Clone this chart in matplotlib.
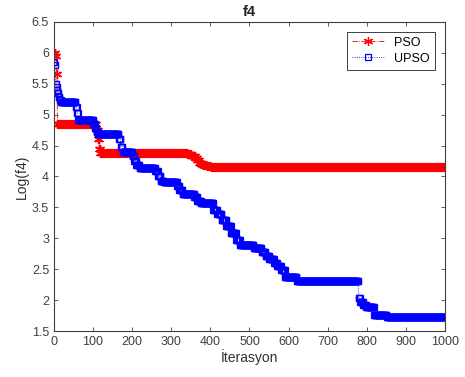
import numpy as np
import matplotlib
matplotlib.use("Agg")
import matplotlib.pyplot as plt

# step levels: iteration where each level ends, and its value
pso_ends = [3, 6, 8, 108, 112, 115, 118, 340, 350, 360, 365, 370, 375, 380, 390, 400, 1000]
pso_vals = [6.0, 5.95, 5.65, 4.85, 4.75, 4.6, 4.45, 4.38, 4.36, 4.33, 4.30, 4.26, 4.22, 4.20, 4.18, 4.17, 4.16]

upso_ends = [1, 3, 5, 7, 9, 11, 14, 17, 55, 58, 61, 100, 104, 108, 112, 165, 170, 175, 200,
             205, 210, 218, 258, 265, 272, 280, 314, 320, 328, 358, 366, 375, 407, 417, 428,
             440, 452, 465, 475, 510, 530, 540, 550, 562, 570, 580, 590, 620, 778, 782, 790,
             798, 818, 850, 1000]
upso_vals = [5.85, 5.8, 5.5, 5.45, 5.4, 5.35, 5.28, 5.23, 5.2, 5.12, 5.02, 4.91, 4.85, 4.78, 4.72,
             4.69, 4.6, 4.48, 4.39, 4.33, 4.25, 4.18, 4.13, 4.08, 4.0, 3.93, 3.91, 3.85, 3.78,
             3.72, 3.66, 3.6, 3.57, 3.45, 3.4, 3.3, 3.2, 3.08, 2.97, 2.89, 2.85, 2.78, 2.72,
             2.66, 2.6, 2.55, 2.48, 2.37, 2.31, 2.03, 1.97, 1.92, 1.89, 1.76, 1.73]

x_ticks = list(range(0, 1001, 100))
y_ticks = [1.5, 2, 2.5, 3, 3.5, 4, 4.5, 5, 5.5, 6, 6.5]


def expand(ends, vals):
    # turn (end iteration, level) pairs into one value per iteration
    lengths = np.diff([0] + ends)
    return np.repeat(vals, lengths)


pso = expand(pso_ends, pso_vals)
upso = expand(upso_ends, upso_vals)
it = np.arange(1, len(pso) + 1)

plt.rcParams['font.family'] = ['Liberation Sans', 'DejaVu Sans']
axcol = '#404040'

fig = plt.figure(figsize=(4.65, 3.77), dpi=100)
ax = fig.add_axes([0.116, 0.122, 0.841, 0.820])

# MATLAB-like asterisk marker
ax.plot(it, pso, color='red', linestyle='-.', marker=(6, 2, 0), markersize=6.5,
        linewidth=0.6, markeredgewidth=0.9, label='PSO')
ax.plot(it, upso, color='blue', linestyle=':', marker='s', markersize=4.5,
        markerfacecolor='none', linewidth=0.6, markeredgewidth=0.9, label='UPSO')

ax.set_xlim(0, 1000)
ax.set_ylim(1.5, 6.5)
ax.set_xticks(x_ticks)
ax.set_yticks(y_ticks)
ax.set_yticklabels([('%g' % v) for v in y_ticks])
ax.tick_params(direction='in', length=3, width=0.6, colors=axcol, labelsize=9,
               top=True, right=True)
for s in ax.spines.values():
    s.set_color(axcol)
    s.set_linewidth(0.8)

ax.set_title('f4', fontsize=10.5, fontweight='bold', color='#202020', pad=4)
ax.set_xlabel('İterasyon', fontsize=10, color='#303030', labelpad=1)
ax.set_ylabel('Log(f4)', fontsize=10, color='#303030', labelpad=2)

leg = ax.legend(loc='upper right', fontsize=9, fancybox=False, framealpha=1,
                edgecolor=axcol, handlelength=2.6, borderaxespad=0.8, labelspacing=0.3)
leg.get_frame().set_linewidth(0.7)

fig.savefig('out.png', dpi=100)
